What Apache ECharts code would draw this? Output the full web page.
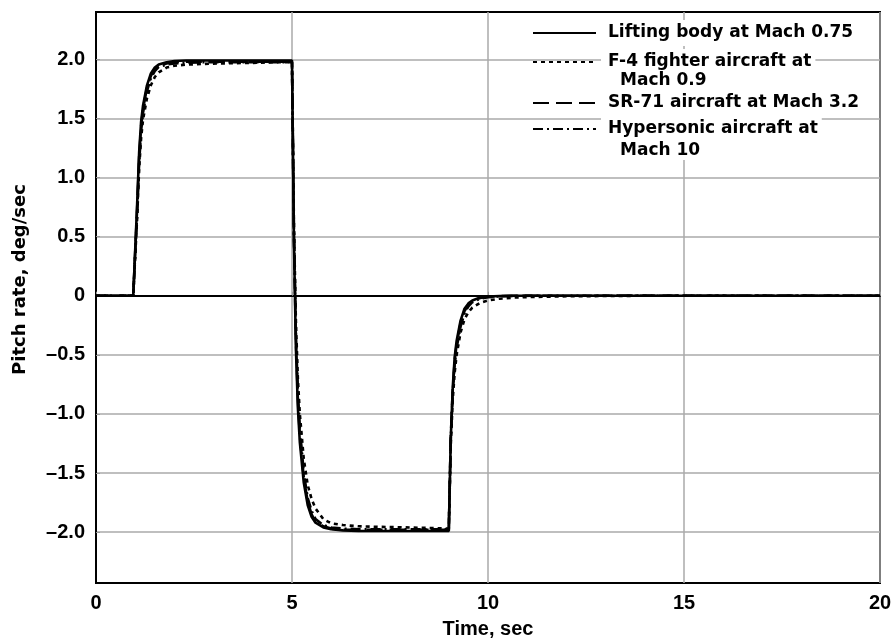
<!DOCTYPE html>
<html>
<head>
<meta charset="utf-8">
<script src="https://cdn.jsdelivr.net/npm/echarts@6/dist/echarts.min.js"></script>
<style>html,body{margin:0;padding:0;background:#fff}#c{width:896px;height:644px}</style>
</head>
<body>
<div id="c"></div>
<script>
// Time, sec
const TIME = [0, 0.95, 1.0, 1.05, 1.1, 1.15, 1.2, 1.3, 1.4, 1.5, 1.6, 1.8, 2.0, 2.3, 2.7, 3.2, 4.0, 4.5,
  5.0, 5.05, 5.1, 5.15, 5.2, 5.3, 5.4, 5.5, 5.6, 5.8, 6.0, 6.3, 6.7, 7.2, 8.0, 8.5,
  9.0, 9.05, 9.1, 9.15, 9.2, 9.3, 9.4, 9.5, 9.6, 9.8, 10.0, 10.3, 10.7, 11.2, 12, 14, 16, 18, 20];

// Pitch rate, deg/sec
const LIFTING_BODY = [0, 0, 0, 0.78, 1.21, 1.47, 1.61, 1.78, 1.88, 1.93, 1.955, 1.975, 1.985, 1.99, 1.99, 1.99, 1.99, 1.99,
  1.99, 0.45, -0.45, -0.95, -1.24, -1.58, -1.77, -1.87, -1.92, -1.96, -1.975, -1.985, -1.99, -1.99, -1.99, -1.99,
  -1.99, -1.21, -0.78, -0.52, -0.38, -0.21, -0.11, -0.065, -0.04, -0.015, -0.006, -0.002, 0, 0, 0, 0, 0, 0, 0];
const F4 = [0, 0, 0, 0.66, 1.07, 1.33, 1.49, 1.67, 1.78, 1.85, 1.89, 1.93, 1.945, 1.955, 1.96, 1.965, 1.97, 1.975,
  1.975, 0.58, -0.22, -0.7, -1.0, -1.38, -1.6, -1.72, -1.8, -1.89, -1.925, -1.94, -1.95, -1.955, -1.96, -1.965,
  -1.97, -1.27, -0.88, -0.65, -0.5, -0.31, -0.2, -0.14, -0.1, -0.06, -0.04, -0.025, -0.015, -0.01, -0.005, 0, 0, 0, 0];
const SR71 = [0, 0, 0, 0.74, 1.17, 1.43, 1.58, 1.76, 1.86, 1.92, 1.945, 1.965, 1.975, 1.98, 1.98, 1.98, 1.98, 1.98,
  1.98, 0.5, -0.38, -0.88, -1.18, -1.54, -1.74, -1.85, -1.91, -1.95, -1.97, -1.98, -1.98, -1.98, -1.98, -1.98,
  -1.98, -1.2, -0.8, -0.55, -0.41, -0.23, -0.13, -0.075, -0.045, -0.02, -0.008, -0.003, 0, 0, 0, 0, 0, 0, 0];
const HYPERSONIC = [0, 0, 0, 0.7, 1.12, 1.39, 1.55, 1.73, 1.84, 1.9, 1.935, 1.955, 1.965, 1.97, 1.975, 1.975, 1.975, 1.975,
  1.975, 0.52, -0.33, -0.82, -1.12, -1.5, -1.71, -1.82, -1.89, -1.94, -1.96, -1.97, -1.975, -1.975, -1.975, -1.975,
  -1.975, -1.22, -0.82, -0.58, -0.44, -0.26, -0.15, -0.09, -0.055, -0.025, -0.012, -0.005, -0.002, 0, 0, 0, 0, 0, 0];

const SERIES_NAMES = ['Lifting body at Mach 0.75', 'F-4 fighter aircraft at Mach 0.9', 'SR-71 aircraft at Mach 3.2', 'Hypersonic aircraft at Mach 10'];
const LEGEND_FIRST = ['Lifting body at Mach 0.75', 'F-4 fighter aircraft at', 'SR-71 aircraft at Mach 3.2', 'Hypersonic aircraft at'];
const LEGEND_SECOND = ['', 'Mach 0.9', '', 'Mach 10'];
const Y_TICKS = [-2, -1.5, -1, -0.5, 0, 0.5, 1, 1.5, 2];

const VALUES = [LIFTING_BODY, F4, SR71, HYPERSONIC];
const DASHES = ['solid', [4, 4], [16, 7], [10, 4, 2, 4]];
const ZS = [6, 5, 4, 3];
const LEG_TOPS = [20, 49, 90, 116];
const SECOND_TOPS = [0, 72, 0, 142];

const tickFont = 'Liberation Sans';
const legFont = 'DejaVu Sans';

const chart = echarts.init(document.getElementById('c'), null, {renderer: 'canvas'});

const series = SERIES_NAMES.map((n, i) => ({
  name: n,
  type: 'line',
  symbol: 'none',
  z: ZS[i],
  data: TIME.map((t, k) => [t, VALUES[i][k]]),
  lineStyle: {color: '#000', width: 2.6, type: DASHES[i]},
  itemStyle: {color: '#000'},
  animation: false
}));

const legends = SERIES_NAMES.map((n, i) => ({
  left: 532,
  top: LEG_TOPS[i],
  orient: 'vertical',
  padding: 0,
  itemWidth: 63,
  itemHeight: 14,
  selectedMode: false,
  itemStyle: {opacity: 0},
  data: [n],
  formatter: () => LEGEND_FIRST[i],
  textStyle: {
    fontFamily: legFont, fontWeight: 'bold', fontSize: 17, color: '#000',
    lineHeight: 26, backgroundColor: '#fff', padding: [0, 4, 0, 7]
  }
}));

const graphics = [];
LEGEND_SECOND.forEach((s, i) => {
  if (!s) return;
  graphics.push({
    type: 'text',
    left: 620,
    top: SECOND_TOPS[i],
    z: 5,
    style: {
      text: s,
      font: 'bold 17px "' + legFont + '"',
      fill: '#000',
      lineHeight: 18,
      backgroundColor: '#fff',
      padding: [0, 4, 0, 0]
    }
  });
});

chart.setOption({
  backgroundColor: '#fff',
  animation: false,
  grid: {left: 96, right: 16, top: 12, bottom: 60, show: true, borderColor: '#000', borderWidth: 2, containLabel: false},
  legend: legends,
  graphic: graphics,
  xAxis: {
    type: 'value', min: 0, max: 20, interval: 5,
    name: 'Time, sec', nameLocation: 'middle', nameGap: 36,
    nameTextStyle: {fontFamily: tickFont, fontWeight: 'bold', fontSize: 20, color: '#000'},
    axisLine: {show: true, lineStyle: {color: '#000', width: 2}},
    axisTick: {show: true, inside: true, length: 4, lineStyle: {color: '#999'}},
    axisLabel: {fontFamily: tickFont, fontWeight: 'bold', fontSize: 20, color: '#000', margin: 10},
    splitLine: {show: true, lineStyle: {color: '#aaa', width: 1.5}}
  },
  yAxis: {
    type: 'value', min: -2.43, max: 2.40,
    name: 'Pitch rate, deg/sec', nameLocation: 'middle', nameGap: 67, nameRotate: 90,
    nameTextStyle: {fontFamily: legFont, fontWeight: 'bold', fontSize: 18, color: '#000', padding: [0, 0, 0, 36]},
    axisLine: {show: true, lineStyle: {color: '#000', width: 2}},
    axisTick: {show: true, inside: true, length: 4, lineStyle: {color: '#999'}, customValues: Y_TICKS},
    axisLabel: {
      fontFamily: tickFont, fontWeight: 'bold', fontSize: 20, color: '#000', margin: 11,
      customValues: Y_TICKS,
      formatter: v => v === 0 ? '0' : (v < 0 ? '\u2013' + Math.abs(v).toFixed(1) : v.toFixed(1))
    },
    splitLine: {show: true, lineStyle: {color: '#aaa', width: 1.5}}
  },
  series: series
});
</script>
</body>
</html>
